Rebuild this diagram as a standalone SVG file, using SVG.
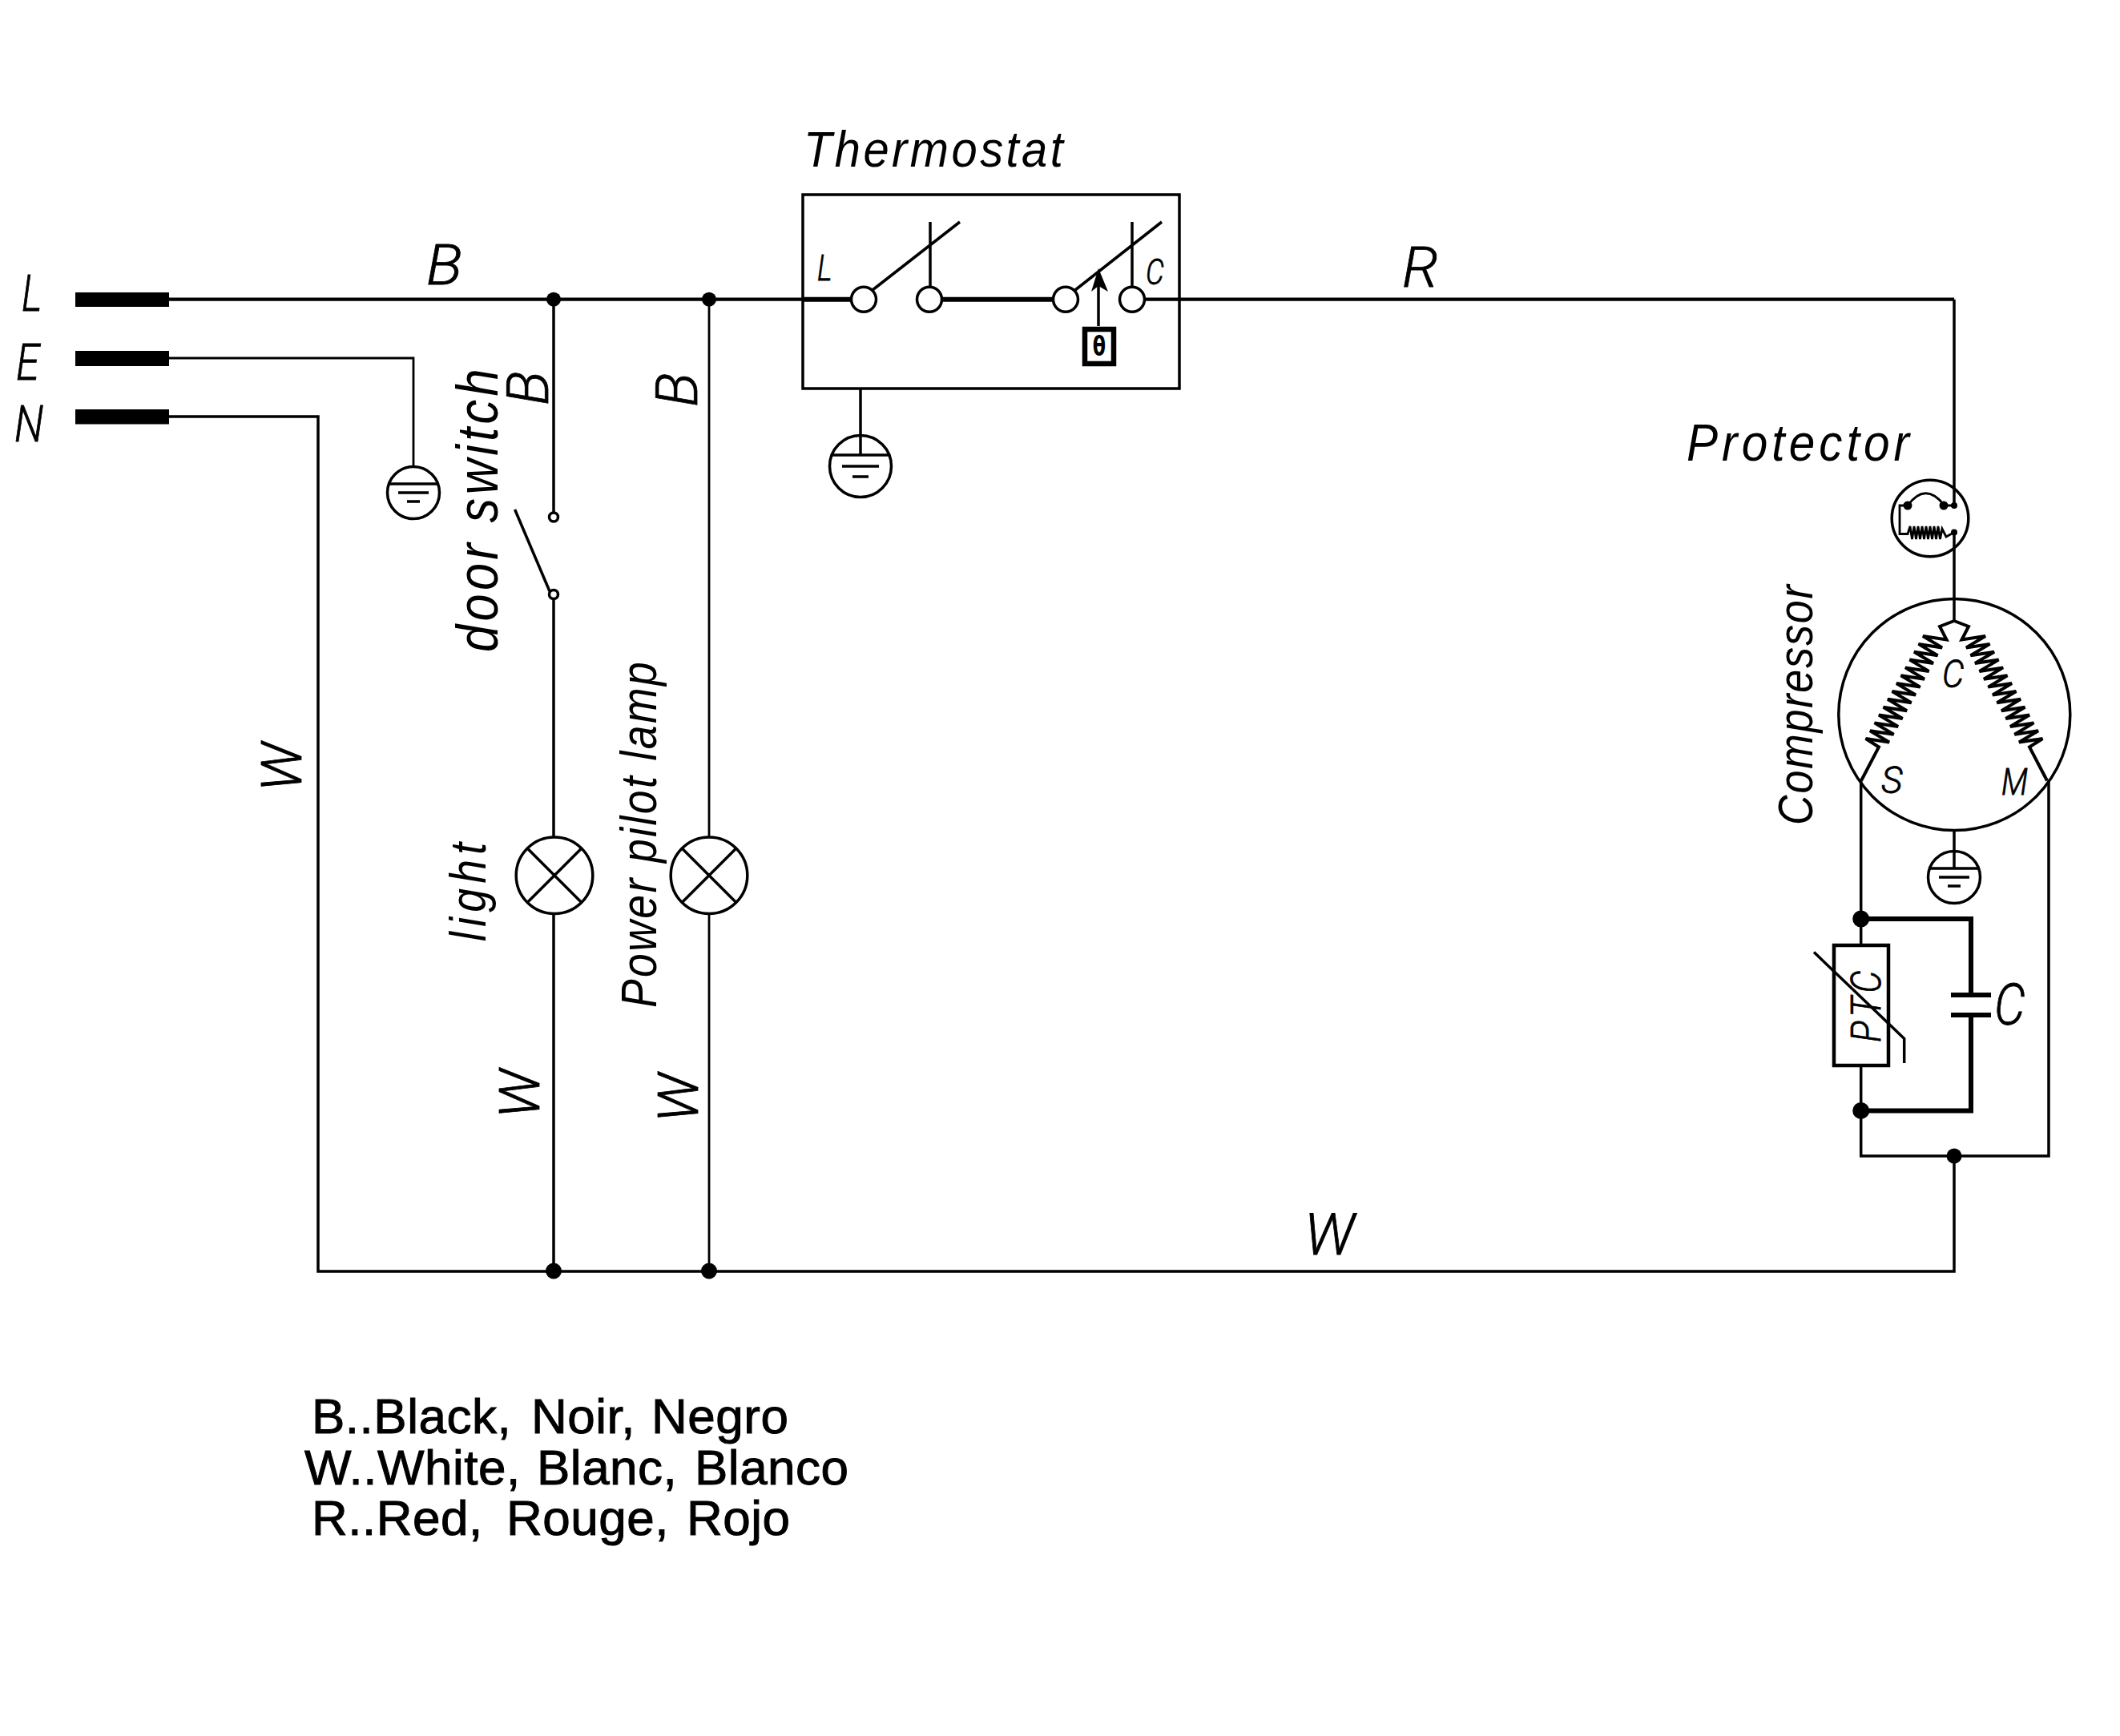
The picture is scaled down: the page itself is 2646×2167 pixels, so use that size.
<svg xmlns="http://www.w3.org/2000/svg" width="2646" height="2167" viewBox="0 0 2646 2167">
<style>
.bg{fill:#fff}
.l{fill:none;stroke:#000;stroke-width:3.5;stroke-linejoin:miter}
.n{fill:none;stroke:#000;stroke-width:2.8}
.h{fill:none;stroke:#000;stroke-width:4.2}
.x{fill:none;stroke:#000;stroke-width:6}
.o{fill:#fff;stroke:#000;stroke-width:3.5}
.d{fill:#000;stroke:none}
text{fill:#000;font-family:"Liberation Sans",Arial,sans-serif}
.i{font-style:italic}
.t{font-family:Roboto,"Liberation Sans",sans-serif;font-style:italic;font-weight:300;stroke:#000;stroke-width:.8}
.k{stroke:#000;stroke-width:1;letter-spacing:.5px}
</style>
<defs>
<path id="winding" class="l" style="stroke-width:4" d="M2439 775L2421 782L2429.5 798.5L2400 794L2424 808.4L2394.5 803.9L2418.5 818.2L2389 813.7L2413 828L2383.5 823.6L2407.5 837.9L2378 833.4L2402 847.8L2372.6 843.3L2396.6 857.6L2367 853.1L2391 867.5L2361.6 863L2385.6 877.3L2356 872.8L2380 887.2L2350.6 882.7L2374.6 897L2345 892.5L2369 906.9L2339.6 902.4L2363.6 916.7L2334 912.2L2358 926.5L2328.6 922L2345 932.5L2323 974.5"/>
<g id="ground">
<circle r="32.5" class="l" cx="0" cy="0"/>
<path class="l" d="M-30.6 -11H30.6"/>
<path class="l" d="M-19 0H19M-8 11H8"/>
</g>
</defs>
<rect class="bg" width="2646" height="2167"/>

<g id="connectors">
<path class="h" d="M211 373.7H1002"/>
<path class="x" d="M1002 373.7H1063"/>
<path class="x" d="M1175 373.7H1315"/>
<path class="h" d="M1428 373.7H2439"/>
<path class="l" d="M2439 373.7V631"/>
<path class="l" d="M2439 664.6V775"/>
<path class="n" d="M211 447H516V582"/>
<path class="l" d="M211 520H397V1587H2439V1443"/>
<path class="l" d="M691 373.7V640"/>
<path class="l" d="M691 748V1045M691 1140V1587"/>
<path class="n" d="M885 373.7V1045M885 1140V1587"/>
<path class="l" d="M1074 485V568"/>
<path class="l" d="M2439 1036V1083"/>
<path class="l" d="M2322.7 974.5V1180M2322.7 1330V1443H2557V974.5"/>
<path class="x" d="M2322.7 1147H2460V1242M2460 1267V1386.4H2322.7"/>
</g>

<g id="junctions">
<circle class="d" cx="691" cy="373.7" r="9"/>
<circle class="d" cx="885" cy="373.7" r="9"/>
<circle class="d" cx="691" cy="1586.5" r="10"/>
<circle class="d" cx="885" cy="1586.5" r="10"/>
<circle class="d" cx="2322.7" cy="1147" r="10.5"/>
<circle class="d" cx="2322.7" cy="1386.4" r="10.5"/>
<circle class="d" cx="2439" cy="1443" r="9.5"/>
</g>

<g id="terminals">
<rect class="d" x="94" y="365" width="117" height="18"/>
<rect class="d" x="94" y="438" width="117" height="19"/>
<rect class="d" x="94" y="511" width="117" height="18.5"/>
<text class="t" transform="translate(27 388) scale(.8 1)" font-size="62">L</text>
<text class="t" transform="translate(20 474) scale(.85 1)" font-size="62">E</text>
<text class="t" transform="translate(18 551) scale(.85 1)" font-size="62">N</text>
</g>

<g id="wire-labels">
<text class="t" transform="translate(532 355) scale(1.08 1)" font-size="70">B</text>
<text class="t" transform="translate(1750 358) scale(1.05 1)" font-size="70">R</text>
<text class="t" x="1628" y="1566" font-size="72">W</text>
<text class="t" transform="translate(684 506) rotate(-90) scale(1 1)" font-size="72">B</text>
<text class="t" transform="translate(870 508) rotate(-90) scale(1 1)" font-size="72">B</text>
<text class="t" transform="translate(376 988) rotate(-90)" font-size="70">W</text>
<text class="t" transform="translate(673 1396) rotate(-90)" font-size="70">W</text>
<text class="t" transform="translate(871 1401) rotate(-90)" font-size="70">W</text>
</g>

<g id="ground-e"><use href="#ground" x="516" y="615"/></g>
<g id="ground-thermostat">
<circle cx="1074" cy="582" r="38.5" class="l"/>
<path class="l" d="M1038 568H1110M1051 582H1097M1064 595H1084"/>
</g>
<g id="ground-compressor"><use href="#ground" x="2439" y="1095"/></g>

<g id="door-switch">
<circle class="o" cx="691" cy="645.5" r="5.5"/>
<circle class="o" cx="691" cy="742" r="5.5"/>
<path class="l" d="M642.6 636L686 738"/>
<text class="i" transform="translate(621 814) rotate(-90) scale(.85 1)" font-size="72" textLength="416">door switch</text>
</g>

<g id="light">
<circle class="l" cx="692" cy="1092.7" r="47.8"/>
<path class="l" d="M658 1058.7L726 1126.7M726 1058.7L658 1126.7"/>
<text class="i" transform="translate(606 1175) rotate(-90) scale(.85 1)" font-size="63" textLength="145">light</text>
</g>

<g id="pilot-lamp">
<circle class="l" cx="885" cy="1092.7" r="47.8"/>
<path class="l" d="M851 1058.7L919 1126.7M919 1058.7L851 1126.7"/>
<text class="i" transform="translate(819 1258) rotate(-90) scale(.85 1)" font-size="63" textLength="508">Power pilot lamp</text>
</g>

<g id="thermostat">
<rect class="l" x="1002" y="243" width="470" height="242"/>
<circle class="o" cx="1078" cy="373.7" r="15.5"/>
<circle class="o" cx="1160" cy="373.7" r="15.5"/>
<circle class="o" cx="1330" cy="373.7" r="15.5"/>
<circle class="o" cx="1413" cy="373.7" r="15.5"/>
<path class="l" d="M1089 362L1198 277M1161 277V358M1342 362L1450 277M1413 277V358M1371 407V345"/>
<path class="d" d="M1371 335L1383 364L1371 357L1362 364Z"/>
<rect class="x" style="stroke-width:6.5" x="1354" y="411" width="36" height="43"/>
<text transform="translate(1372 444) scale(.72 1)" font-size="33" font-weight="bold" text-anchor="middle" style="font-family:'DejaVu Sans',sans-serif">θ</text>
<text class="i" transform="translate(1003 208) scale(.92 1)" font-size="63" textLength="352">Thermostat</text>
<text class="t" transform="translate(1020 350) scale(.8 1)" font-size="45">L</text>
<text class="t" transform="translate(1430 355) scale(.8 1)" font-size="45">C</text>
</g>

<g id="protector">
<circle class="l" cx="2409" cy="647" r="47.8"/>
<circle class="d" cx="2381" cy="631" r="5.5"/>
<circle class="d" cx="2426" cy="631" r="5.5"/>
<circle class="d" cx="2439" cy="631" r="4"/>
<circle class="d" cx="2439" cy="664.6" r="4"/>
<path class="n" d="M2381 631Q2403 601 2426 630M2426 631H2439M2381 631H2371V666.5H2381L2384 657L2386.5 673L2389 657L2391.5 673L2394 657L2396.5 673L2399 657L2401.5 673L2404 657L2406.5 673L2409 657L2411.5 673L2414 657L2416.5 673L2419 657L2421.5 673L2424 660L2429 670L2439 664.6"/>
<text class="i" transform="translate(2105 574.6) scale(.9 1)" font-size="65" textLength="309">Protector</text>
</g>

<g id="compressor">
<circle class="l" cx="2439.3" cy="892" r="144.5"/>
<use href="#winding"/>
<use href="#winding" transform="translate(4878 0) scale(-1 1)"/>
<text class="t" transform="translate(2424 858) scale(.9 1)" font-size="48">C</text>
<text class="t" transform="translate(2348 990) scale(1 1)" font-size="46">S</text>
<text class="t" transform="translate(2498 992) scale(.85 1)" font-size="46">M</text>
<text class="i" transform="translate(2262 1030) rotate(-90) scale(.84 1)" font-size="62" textLength="357">Compressor</text>
</g>

<g id="ptc">
<rect class="l" x="2289" y="1180" width="68" height="150" style="stroke-width:4.5"/>
<path class="l" d="M2264 1188.6L2376.7 1296.4V1327"/>
<text class="t" transform="translate(2346.5 1301) rotate(-90) scale(.85 1)" font-size="52" textLength="105">PTC</text>
</g>

<g id="capacitor">
<path class="x" d="M2435 1242H2485M2435 1267H2485"/>
<text class="t" transform="translate(2489 1279) scale(.85 1)" font-size="72">C</text>
</g>

<g id="legend">
<text class="k" y="1789" font-size="62"><tspan x="389">B..Black,</tspan><tspan x="663">Noir,</tspan><tspan x="813">Negro</tspan></text>
<text class="k" y="1852.7" font-size="62"><tspan x="380">W..White,</tspan><tspan x="670">Blanc,</tspan><tspan x="867">Blanco</tspan></text>
<text class="k" y="1915.5" font-size="62"><tspan x="389">R..Red,</tspan><tspan x="632">Rouge,</tspan><tspan x="857">Rojo</tspan></text>
</g>
</svg>
